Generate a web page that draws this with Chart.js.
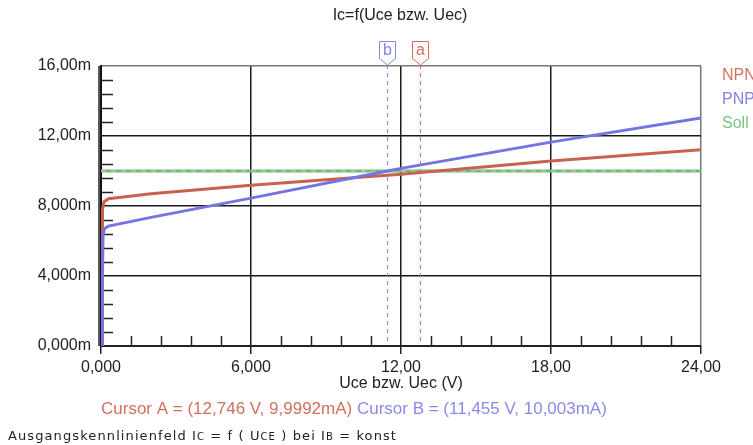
<!DOCTYPE html>
<html>
<head>
<meta charset="utf-8">
<script src="https://cdn.jsdelivr.net/npm/chart.js@4.4.1/dist/chart.umd.min.js"></script>
<style>
    html, body { margin: 0; padding: 0; background: #fff; }
    #rahmen { position: relative; width: 753px; height: 445px; overflow: hidden; }
    #fuss { position: absolute; left: 8px; top: 428px; font: 13px "DejaVu Sans", sans-serif; letter-spacing: 1.1px; color: #222; white-space: pre; }
    .kl { font-size: 10px; }
</style>
</head>
<body>
<div id="rahmen">
    <canvas id="grafik" width="753" height="445"></canvas>
    <div id="fuss">Ausgangskennlinienfeld I<span class="kl">C</span> = f ( U<span class="kl">CE</span> ) bei I<span class="kl">B</span> = konst</div>
</div>
<script>
const titel = 'Ic=f(Uce bzw. Uec)';
const xTitel = 'Uce bzw. Uec (V)';

const xTicks = [0, 6, 12, 18, 24];
const xTickLabels = ['0,000', '6,000', '12,00', '18,00', '24,00'];
const yTicks = [0, 4, 8, 12, 16];
const yTickLabels = ['0,000m', '4,000m', '8,000m', '12,00m', '16,00m'];

// Kennlinien (U in V, I in mA)
const npnU = [0.05, 0.05, 0.07, 0.12, 0.3, 2, 6, 12, 18, 24];
const npnI = [0, 4.5, 7.8, 8.25, 8.42, 8.7, 9.19, 9.81, 10.57, 11.22];
const pnpU = [0.05, 0.06, 0.08, 0.13, 0.3, 2, 6, 11.455, 12, 18, 24];
const pnpI = [0, 4, 6.3, 6.7, 6.85, 7.35, 8.45, 10.0, 10.15, 11.65, 13.03];
const sollU = [0, 24];
const sollI = [10, 10];

const cursorA = 12.746;
const cursorB = 11.455;
const cursorTexte = ['Cursor A = (12,746 V, 9,9992mA)', ' Cursor B = (11,455 V, 10,003mA)'];

const rot = '#c9614f';
const blau = '#7474e2';
const gruen = '#6cbd6c';
const schrift = '16px "Liberation Sans", Arial, sans-serif';

function punkte(xs, ys) {
    return xs.map((x, i) => ({ x: x, y: ys[i] }));
}

const dekoPlugin = {
    id: 'deko',
    beforeDatasetsDraw(chart) {
        const { ctx, chartArea, scales } = chart;
        ctx.save();
        ctx.strokeStyle = '#222';
        ctx.lineWidth = 1.5;
        // Nebenstriche y
        for (let i = 1; i < 20; i++) {
            if (i % 5 === 0) continue;
            const y = Math.round(scales.y.getPixelForValue(i * 0.8)) + 0.5;
            ctx.beginPath();
            ctx.moveTo(chartArea.left, y);
            ctx.lineTo(chartArea.left + 12, y);
            ctx.stroke();
        }
        // Nebenstriche x
        for (let i = 1; i < 20; i++) {
            if (i % 5 === 0) continue;
            const x = Math.round(scales.x.getPixelForValue(i * 1.2)) + 0.5;
            ctx.beginPath();
            ctx.moveTo(x, chartArea.bottom);
            ctx.lineTo(x, chartArea.bottom - 10);
            ctx.stroke();
        }
        // doppelte Achse links
        ctx.beginPath();
        ctx.moveTo(chartArea.left - 2, chartArea.top);
        ctx.lineTo(chartArea.left - 2, chartArea.bottom);
        ctx.stroke();
        ctx.restore();
    },
    afterDatasetsDraw(chart) {
        const { ctx, chartArea, scales } = chart;
        const cursors = [[cursorB, 'b', '#8585e6'], [cursorA, 'a', '#d9695c']];
        ctx.save();
        cursors.forEach(([wert, name, farbe]) => {
            const x = Math.round(scales.x.getPixelForValue(wert)) + 0.5;
            ctx.strokeStyle = farbe;
            ctx.lineWidth = 1;
            ctx.setLineDash([4, 4]);
            ctx.beginPath();
            ctx.moveTo(x, chartArea.top - 1);
            ctx.lineTo(x, chartArea.bottom - 4);
            ctx.stroke();
            ctx.setLineDash([]);
            // Markierung
            ctx.fillStyle = '#fff';
            ctx.beginPath();
            ctx.moveTo(x - 8, 41.5);
            ctx.lineTo(x + 8, 41.5);
            ctx.lineTo(x + 8, 58.5);
            ctx.lineTo(x, 65);
            ctx.lineTo(x - 8, 58.5);
            ctx.closePath();
            ctx.fill();
            ctx.stroke();
            ctx.fillStyle = farbe;
            ctx.font = schrift;
            ctx.textAlign = 'center';
            ctx.textBaseline = 'middle';
            ctx.fillText(name, x, 51);
        });
        ctx.restore();
    },
    afterDraw(chart) {
        const { ctx, chartArea } = chart;
        ctx.save();
        ctx.font = schrift;
        ctx.textBaseline = 'middle';
        ctx.textAlign = 'center';
        ctx.fillStyle = '#222';
        ctx.fillText(titel, 400, 16);
        ctx.fillText(xTitel, (chartArea.left + chartArea.right) / 2, 384);

        // Legende
        ctx.textAlign = 'left';
        chart.data.datasets.slice(0, 3).forEach((ds, i) => {
            ctx.fillStyle = ds.legendFarbe;
            ctx.fillText(ds.label, 722, 76 + i * 24);
        });

        // Cursorwerte
        ctx.font = '17px "Liberation Sans", Arial, sans-serif';
        let x = 101;
        ctx.fillStyle = '#d0705f';
        ctx.fillText(cursorTexte[0], x, 409);
        x += ctx.measureText(cursorTexte[0]).width;
        ctx.fillStyle = '#8a8ae8';
        ctx.fillText(cursorTexte[1], x, 409);
        ctx.restore();
    }
};

const ctx = document.getElementById('grafik').getContext('2d');

new Chart(ctx, {
    type: 'line',
    data: {
        datasets: [
            { label: 'NPN', data: punkte(npnU, npnI), borderColor: rot, legendFarbe: '#d3725f', borderWidth: 3, order: 1 },
            { label: 'PNP', data: punkte(pnpU, pnpI), borderColor: blau, legendFarbe: '#8383e8', borderWidth: 3, order: 0 },
            { label: 'Soll', data: punkte(sollU, sollI), borderColor: gruen, legendFarbe: '#7cc47c', borderWidth: 3, order: 3 },
            { label: 'Soll-Linie', data: punkte(sollU, sollI), borderColor: '#c8b4c8', borderWidth: 1.5, borderDash: [5, 5], order: 2 }
        ]
    },
    options: {
        responsive: false,
        animation: false,
        elements: {
            point: { radius: 0 },
            line: { tension: 0, fill: false }
        },
        layout: {
            padding: { top: 66, right: 52, left: 0, bottom: 0 }
        },
        plugins: {
            legend: { display: false },
            title: { display: false },
            tooltip: { enabled: false }
        },
        scales: {
            x: {
                type: 'linear',
                min: 0,
                max: 24,
                afterFit: (scale) => { scale.height = 99; },
                ticks: {
                    stepSize: 6,
                    padding: 4,
                    maxRotation: 0,
                    color: '#222',
                    font: { family: '"Liberation Sans", Arial', size: 16 },
                    callback: (wert) => xTickLabels[xTicks.indexOf(wert)]
                },
                grid: {
                    color: (c) => (c.tick && c.tick.value === 24 ? '#777' : '#1a1a1a'),
                    tickColor: '#222',
                    lineWidth: 1.5,
                    tickLength: 8
                },
                border: { color: '#222', width: 2 }
            },
            y: {
                type: 'linear',
                min: 0,
                max: 16,
                afterFit: (scale) => { scale.width = 101; },
                ticks: {
                    stepSize: 4,
                    padding: 10,
                    color: '#222',
                    font: { family: '"Liberation Sans", Arial', size: 16 },
                    callback: (wert) => yTickLabels[yTicks.indexOf(wert)]
                },
                grid: {
                    color: (c) => (c.tick && c.tick.value === 16 ? '#777' : '#1a1a1a'),
                    lineWidth: 1.5,
                    drawTicks: false
                },
                border: { color: '#111', width: 2 }
            }
        }
    },
    plugins: [dekoPlugin]
});
</script>
</body>
</html>
